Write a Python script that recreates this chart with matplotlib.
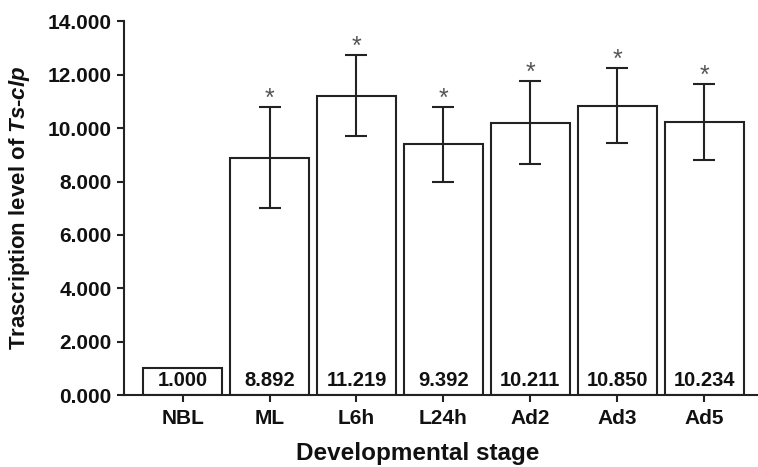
import matplotlib.pyplot as plt
import numpy as np

plt.rcParams['font.family'] = 'Liberation Sans'
plt.rcParams['font.weight'] = 'bold'
plt.rcParams['mathtext.fontset'] = 'custom'
plt.rcParams['mathtext.it'] = 'Liberation Sans:italic:bold'
plt.rcParams['mathtext.rm'] = 'Liberation Sans:bold'

stages = ['NBL', 'ML', 'L6h', 'L24h', 'Ad2', 'Ad3', 'Ad5']
nivel = [1.000, 8.892, 11.219, 9.392, 10.211, 10.850, 10.234]
error = [0.0, 1.90, 1.52, 1.40, 1.56, 1.40, 1.44]
signif = [False, True, True, True, True, True, True]
yticks = [0, 2, 4, 6, 8, 10, 12, 14]

fig = plt.figure(figsize=(7.58, 4.67), dpi=100)
ax = fig.add_axes([0.163, 0.154, 0.837, 0.80])

x = np.arange(len(stages))
negro = '#222222'
ax.bar(x, nivel, width=0.91, color='white', edgecolor=negro, linewidth=1.5, zorder=2)
for i in range(len(stages)):
    if error[i] > 0:
        ax.errorbar(x[i], nivel[i], yerr=error[i], fmt='none', ecolor=negro,
                    elinewidth=1.5, capsize=8, capthick=1.5, zorder=3)
    if signif[i]:
        ax.annotate('*', (x[i], nivel[i] + error[i]), xytext=(0, -3),
                    textcoords='offset points', ha='center', va='bottom',
                    fontsize=18, fontweight='normal', color='#555555')
    ax.text(x[i], 0.2, '{:.3f}'.format(nivel[i]), ha='center', va='bottom',
            fontsize=14.5, fontweight='bold', color='#111111', zorder=4)

ax.set_xlim(-0.68, 6.62)
ax.set_ylim(0, 14)
ax.set_xticks(x)
ax.set_xticklabels(stages)
ax.set_yticks(yticks)
ax.set_yticklabels(['{:.3f}'.format(v) for v in yticks])
ax.tick_params(axis='both', direction='out', length=5, width=1.5, colors=negro,
               labelsize=15, labelcolor='#111111')
ax.tick_params(axis='x', pad=5)
for lado in ['top', 'right']:
    ax.spines[lado].set_visible(False)
for lado in ['left', 'bottom']:
    ax.spines[lado].set_linewidth(1.5)
    ax.spines[lado].set_color(negro)

ax.set_ylabel('Trascription level of $Ts$-$clp$', fontsize=16, fontweight='bold',
              color='#111111')
ax.yaxis.set_label_coords(-0.145, 0.5)
ax.set_xlabel('Developmental stage', fontsize=17.5, fontweight='bold',
              color='#111111')
ax.xaxis.set_label_coords(0.463, -0.125)

fig.savefig('out.png', dpi=100)
